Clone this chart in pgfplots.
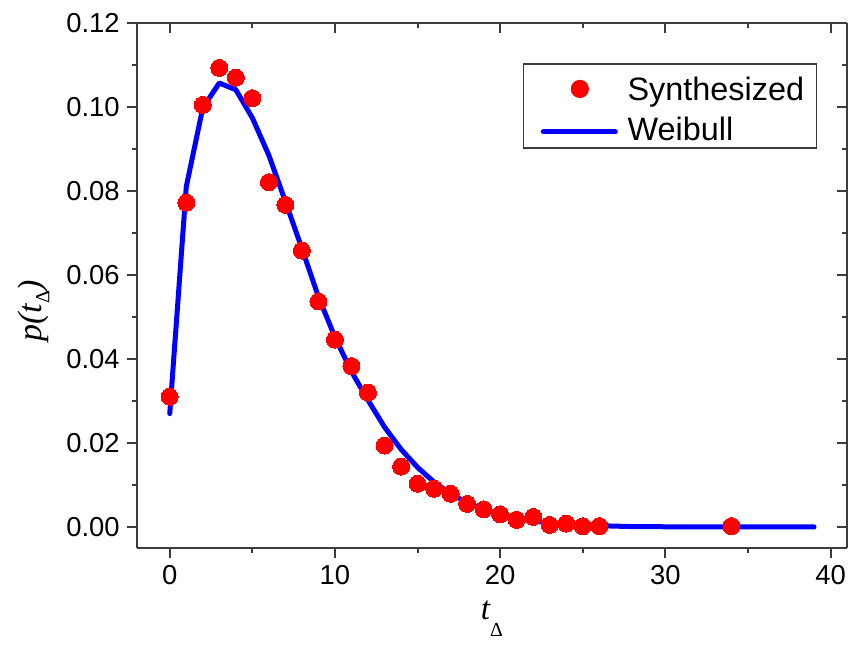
\documentclass[border=0pt]{standalone}
\usepackage{pgfplots}
\pgfplotsset{compat=1.18}
\usepackage{fontspec}
\setmainfont{Liberation Sans}
\newfontfamily\seriffont{Liberation Serif}
\definecolor{axgray}{RGB}{60,60,60}
\pgfplotsset{
  dotlegend/.style={legend image code/.code={\path (0pt,0pt) (43.65pt,0pt); \fill[red,##1] (21pt,-1.5pt) circle[radius=4.25pt];}},
  linelegend/.style={legend image code/.code={\path (0pt,0pt) (43.65pt,0pt); \draw[##1] (2.75pt,-3pt) -- (38.75pt,-3pt);}},
  common/.style={
    scale only axis, width=355.2pt, height=262.5pt,
    xmin=-2, xmax=41, ymin=-0.005, ymax=0.12,
    xtick={0,10,20,30,40}, minor xtick={5,15,25,35},
    ytick={0,0.02,0.04,0.06,0.08,0.10,0.12},
    minor ytick={0.01,0.03,0.05,0.07,0.09,0.11},
    major tick length=5pt, minor tick length=2.5pt,
    axis line style={line width=1pt, draw=axgray, -},
    every tick/.style={line width=1pt, axgray},
    scaled y ticks=false,
  }
}
\begin{document}
\begin{tikzpicture}
\begin{axis}[common, name=ax,
  axis x line*=bottom, axis y line*=left, tick align=outside,
  ticklabel style={font=\fontsize{13.7}{16}\selectfont},
  /pgf/number format/assume math mode=true,
  yticklabel style={/pgf/number format/.cd, fixed, fixed zerofill, precision=2},
  xlabel={\fontsize{16.5}{19}\selectfont\seriffont\itshape t\raisebox{-8.3pt}{\upshape\fontsize{10}{12}\selectfont Δ}},
  xlabel style={at={(axis description cs:0.5,-0.137)}, anchor=base},
  ylabel={\fontsize{17}{19}\selectfont\seriffont\itshape p(t\raisebox{-0.5ex}{\upshape\fontsize{10}{12}\selectfont Δ})},
  ylabel style={at={(axis description cs:-0.145,0.452)}, anchor=center},
  legend style={at={(0.5434,0.9232)}, anchor=north west, draw=axgray, line width=0.6pt,
    font=\fontsize{16.2}{19}\selectfont, inner xsep=6pt, inner ysep=2pt, row sep=1.95pt,
    nodes={inner sep=0pt, text height=16.2pt, text depth=1.85pt}},
  legend cell align=left,
]
\addplot[red, only marks, mark=*, mark size=4.25pt, mark options={fill=red, draw=red, line width=0pt}, dotlegend]
coordinates {
(0,0.0310) (1,0.0772) (2,0.1005) (3,0.1093) (4,0.1070) (5,0.1021) (6,0.0821)
(7,0.0767) (8,0.0658) (9,0.0537) (10,0.0446) (11,0.0383) (12,0.0320) (13,0.0194)
(14,0.0144) (15,0.0103) (16,0.0091) (17,0.0079) (18,0.0055) (19,0.0042) (20,0.0030)
(21,0.0017) (22,0.0024) (23,0.0005) (24,0.0008) (25,0.0002) (26,0.0002) (34,0.0002)
};
\addlegendentry{Synthesized}
\addplot[blue, line width=2.5pt, line join=round, line cap=round, mark=none, linelegend]
coordinates {
(0,0.027) (1,0.081) (2,0.0998) (3,0.1057) (4,0.1041) (5,0.0974) (6,0.0885)
(7,0.0775) (8,0.0663) (9,0.0548) (10,0.0452) (11,0.0370) (12,0.0302) (13,0.0238)
(14,0.0185) (15,0.0142) (16,0.0107) (17,0.0079) (18,0.0058) (19,0.0042) (20,0.0030)
(21,0.0021) (22,0.0014) (23,0.0010) (24,0.0007) (25,0.0005) (26,0.0003) (27,0.0002)
(28,0.0001) (29,0.0001) (30,0.00005) (31,0.00003) (32,0.00002) (33,0.00001)
(34,0) (35,0) (36,0) (37,0) (38,0) (39,0)
};
\addlegendentry{Weibull}
\end{axis}
\begin{axis}[common,
  axis x line*=top, axis y line*=right, tick align=inside,
  xticklabels={}, yticklabels={},
]
\end{axis}
\pgfresetboundingbox
\path (ax.south west) ++(-68.35pt,-51.5pt) rectangle ++(425.5pt,325.5pt);
\end{tikzpicture}
\end{document}
